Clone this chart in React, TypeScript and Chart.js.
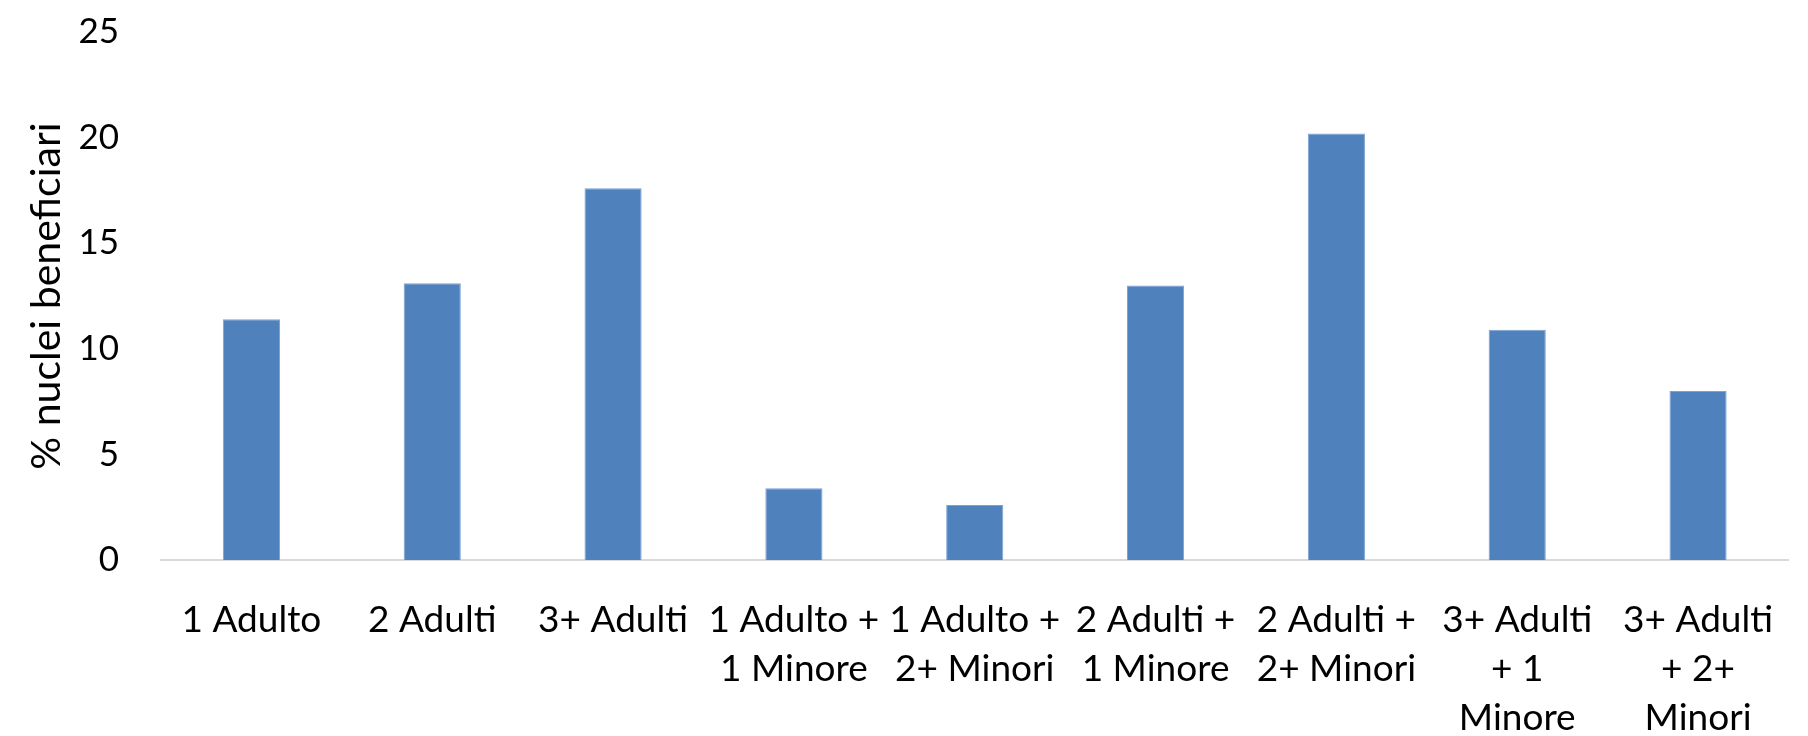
import React, { useEffect, useRef } from "react";
import { Chart, registerables } from "chart.js";

Chart.register(...registerables);

const categories: (string | string[])[] = [
  "1 Adulto",
  "2 Adulti",
  "3+ Adulti",
  ["1 Adulto +", "1 Minore"],
  ["1 Adulto +", "2+ Minori"],
  ["2 Adulti +", "1 Minore"],
  ["2 Adulti +", "2+ Minori"],
  ["3+ Adulti", "+ 1", "Minore"],
  ["3+ Adulti", "+ 2+", "Minori"],
];

const percentValues: number[] = [11.4, 13.1, 17.6, 3.4, 2.6, 13.0, 20.2, 10.9, 8.0];

const yTicks: number[] = [0, 5, 10, 15, 20, 25];

const yTitle = "% nuclei beneficiari";

export default function App() {
  const canvasRef = useRef<HTMLCanvasElement | null>(null);

  useEffect(() => {
    if (!canvasRef.current) return;
    const font = "Lato, 'Open Sans', sans-serif";
    const chart = new Chart(canvasRef.current, {
      type: "bar",
      data: {
        labels: categories,
        datasets: [
          {
            data: percentValues,
            backgroundColor: "#4f81bd",
            borderColor: "#7aa2d6",
            borderWidth: 1,
            barPercentage: 0.316,
            categoryPercentage: 1,
          },
        ],
      },
      options: {
        animation: false,
        responsive: false,
        maintainAspectRatio: false,
        layout: { padding: { top: 32, right: 0, left: 0, bottom: 0 } },
        plugins: {
          legend: { display: false },
          tooltip: { enabled: false },
        },
        scales: {
          x: {
            grid: { display: false, drawTicks: false },
            border: { display: true, color: "#d9d9d9", width: 2 },
            ticks: {
              color: "#000000",
              font: { family: font, size: 37, lineHeight: 1.33 },
              maxRotation: 0,
              minRotation: 0,
              autoSkip: false,
              padding: 35,
            },
            afterFit: (scale: any) => {
              scale.height = 176;
            },
          },
          y: {
            min: 0,
            max: 25,
            afterBuildTicks: (scale: any) => {
              scale.ticks = yTicks.map((v) => ({ value: v }));
            },
            grid: { display: false, drawTicks: true, tickLength: 42 },
            border: { display: false },
            ticks: {
              color: "#000000",
              font: { family: font, size: 35 },
              padding: 0,
            },
            title: {
              display: true,
              text: yTitle,
              color: "#000000",
              font: { family: font, size: 41 },
              padding: { top: 22, bottom: 0 },
            },
            afterFit: (scale: any) => {
              scale.width = 161;
            },
          },
        },
      },
    });
    return () => chart.destroy();
  }, []);

  return (
    <div style={{ position: "fixed", left: 0, top: 0, width: 1808, height: 736, background: "#ffffff" }}>
      <canvas ref={canvasRef} width={1808} height={736} style={{ display: "block" }} />
    </div>
  );
}
